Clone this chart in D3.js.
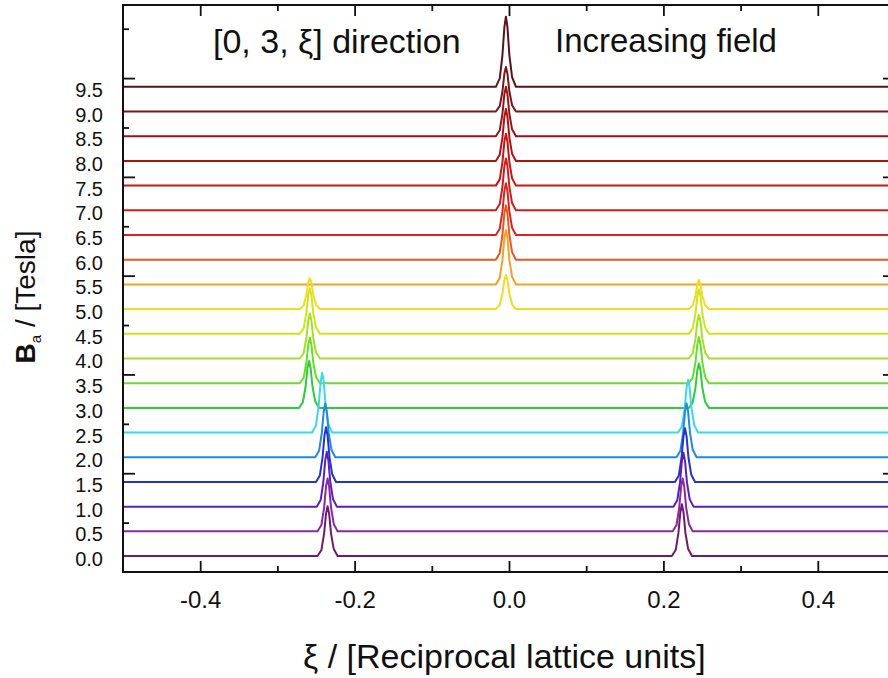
<!DOCTYPE html>
<html>
<head>
<meta charset="utf-8">
<script src="https://cdn.jsdelivr.net/npm/d3@7"></script>
<style>
  body { margin: 0; background: white; }
  text { font-family: "Liberation Sans", Arial, sans-serif; fill: #111; }
</style>
</head>
<body>
<script>
// field values for each trace (Tesla), bottom to top
const fields = [0.0, 0.5, 1.0, 1.5, 2.0, 2.5, 3.0, 3.5, 4.0, 4.5, 5.0, 5.5, 6.0, 6.5, 7.0, 7.5, 8.0, 8.5, 9.0, 9.5];

const traceColors = ["#6e1c6c", "#8a28a4", "#5a20b8", "#2234cc", "#2488dc", "#3cd8e6",
  "#2ecc3a", "#64e02a", "#a4e024", "#d0e418", "#f0dc22", "#f2a02a",
  "#e45a1c", "#d82420", "#d21c1c", "#c81616", "#b01212", "#961418", "#7c1418", "#5c1216"];

// peak centres (xi) for each trace
const peakPos = [
  [-0.235, 0.224], [-0.235, 0.225], [-0.236, 0.226], [-0.237, 0.228], [-0.238, 0.230], [-0.242, 0.232],
  [-0.259, 0.246], [-0.258, 0.246], [-0.258, 0.246], [-0.258, 0.246], [-0.258, -0.004, 0.246],
  [-0.004], [-0.004], [-0.004], [-0.004], [-0.004], [-0.004], [-0.004], [-0.004], [-0.004]
];
// peak heights (same units as the field offset)
const peakHeights = [
  [1.01, 1.05], [1.07, 1.07], [1.11, 1.09], [1.11, 1.09], [1.09, 1.09], [1.21, 1.07],
  [0.95, 0.9], [0.92, 0.93], [0.91, 0.88], [0.92, 0.9], [0.63, 0.69, 0.59],
  [1.1], [1.1], [1.05], [1.05], [1.05], [1.05], [1.0], [0.9], [1.42]
];
// peak profile: [dxi, fraction of height]
const peakShape = [[-0.013, 0], [-0.008, 0.12], [-0.0045, 0.45], [-0.002, 0.85], [0, 1],
  [0.002, 0.85], [0.0045, 0.45], [0.008, 0.14], [0.013, 0]];

const xMajor = [-0.4, -0.2, 0.0, 0.2, 0.4];
const xMinor = [-0.3, -0.1, 0.1, 0.3];
const yMajor = [2, 4, 6, 8, 10];
const yMinor = [1, 3, 5, 7, 9, 11];

const baseOffset = 0.323;

const svg = d3.select("body").append("svg")
  .attr("width", 888)
  .attr("height", 678);

const plotL = 123, plotR = 895, plotT = 5, plotB = 572;

const x = d3.scaleLinear().domain([-0.5, 0.5]).range([plotL, plotR]);
const y = d3.scaleLinear().domain([0, 11.48]).range([plotB, plotT]);

//traces, high field first so the low field ones sit on top
const line = d3.line().x(d => x(d[0])).y(d => y(d[1]));

const traces = fields.map((f, i) => {
  const base = baseOffset + f;
  let pts = [[-0.5, base]];
  peakPos[i].forEach((c, j) => {
    peakShape.forEach(s => pts.push([c + s[0], base + s[1] * peakHeights[i][j]]));
  });
  pts.push([0.5, base]);
  return {field: f, color: traceColors[i], pts: pts};
}).reverse();

svg.append("g")
  .selectAll(".trace")
  .data(traces)
  .join("path")
  .attr("class", "trace")
  .attr("fill", "none")
  .attr("stroke", d => d.color)
  .attr("stroke-width", 2)
  .attr("stroke-linejoin", "round")
  .attr("d", d => line(d.pts));

// field labels next to each trace
svg.append("g")
  .selectAll(".field-label")
  .data(fields)
  .join("text")
  .attr("class", "field-label")
  .attr("x", 103)
  .attr("y", d => y(baseOffset + d) + 10)
  .attr("text-anchor", "end")
  .style("font-size", "20px")
  .text(d => d.toFixed(1));

// axes (ticks point inward)
const noLabel = () => "";
const addAxis = (axis, tx, ty) => {
  const g = svg.append("g").attr("transform", `translate(${tx},${ty})`).call(axis);
  g.select(".domain").remove();
  g.selectAll("line").attr("stroke", "#111").attr("stroke-width", 1.8);
  return g;
};

const xAxis = addAxis(d3.axisBottom(x).tickValues(xMajor).tickSize(-11).tickPadding(4)
  .tickFormat(d => d.toFixed(1)), 0, plotB);
xAxis.selectAll("text").style("font-size", "24px").attr("y", 0).attr("dy", 36)
  .attr("fill", "#111").style("font-family", "Liberation Sans, Arial, sans-serif");
addAxis(d3.axisBottom(x).tickValues(xMinor).tickSize(-6).tickFormat(noLabel), 0, plotB);
addAxis(d3.axisTop(x).tickValues(xMajor).tickSize(-11).tickFormat(noLabel), 0, plotT);
addAxis(d3.axisTop(x).tickValues(xMinor).tickSize(-6).tickFormat(noLabel), 0, plotT);
addAxis(d3.axisLeft(y).tickValues(yMajor).tickSize(-12).tickFormat(noLabel), plotL, 0);
addAxis(d3.axisLeft(y).tickValues(yMinor).tickSize(-6).tickFormat(noLabel), plotL, 0);
addAxis(d3.axisRight(y).tickValues(yMajor).tickSize(-12).tickFormat(noLabel), plotR, 0);
addAxis(d3.axisRight(y).tickValues(yMinor).tickSize(-6).tickFormat(noLabel), plotR, 0);

svg.append("rect")
  .attr("x", plotL).attr("y", plotT)
  .attr("width", plotR - plotL).attr("height", plotB - plotT)
  .attr("fill", "none")
  .attr("stroke", "#111")
  .attr("stroke-width", 2);

// annotations
svg.append("text")
  .attr("x", 213).attr("y", 53)
  .style("font-size", "34px")
  .text("[0, 3, ξ] direction");

svg.append("text")
  .attr("x", 555).attr("y", 52)
  .style("font-size", "33px")
  .text("Increasing field");

// axis titles
svg.append("text")
  .attr("x", 303).attr("y", 668)
  .style("font-size", "34px")
  .text("ξ / [Reciprocal lattice units]");

const yTitle = svg.append("text")
  .attr("transform", "translate(35,297) rotate(-90)")
  .attr("text-anchor", "middle")
  .style("font-size", "28px");
yTitle.append("tspan").style("font-weight", "bold").text("B");
yTitle.append("tspan").style("font-size", "15px").attr("dy", 6).text("a");
yTitle.append("tspan").attr("dy", -6).text("  /  [Tesla]");
</script>
</body>
</html>
